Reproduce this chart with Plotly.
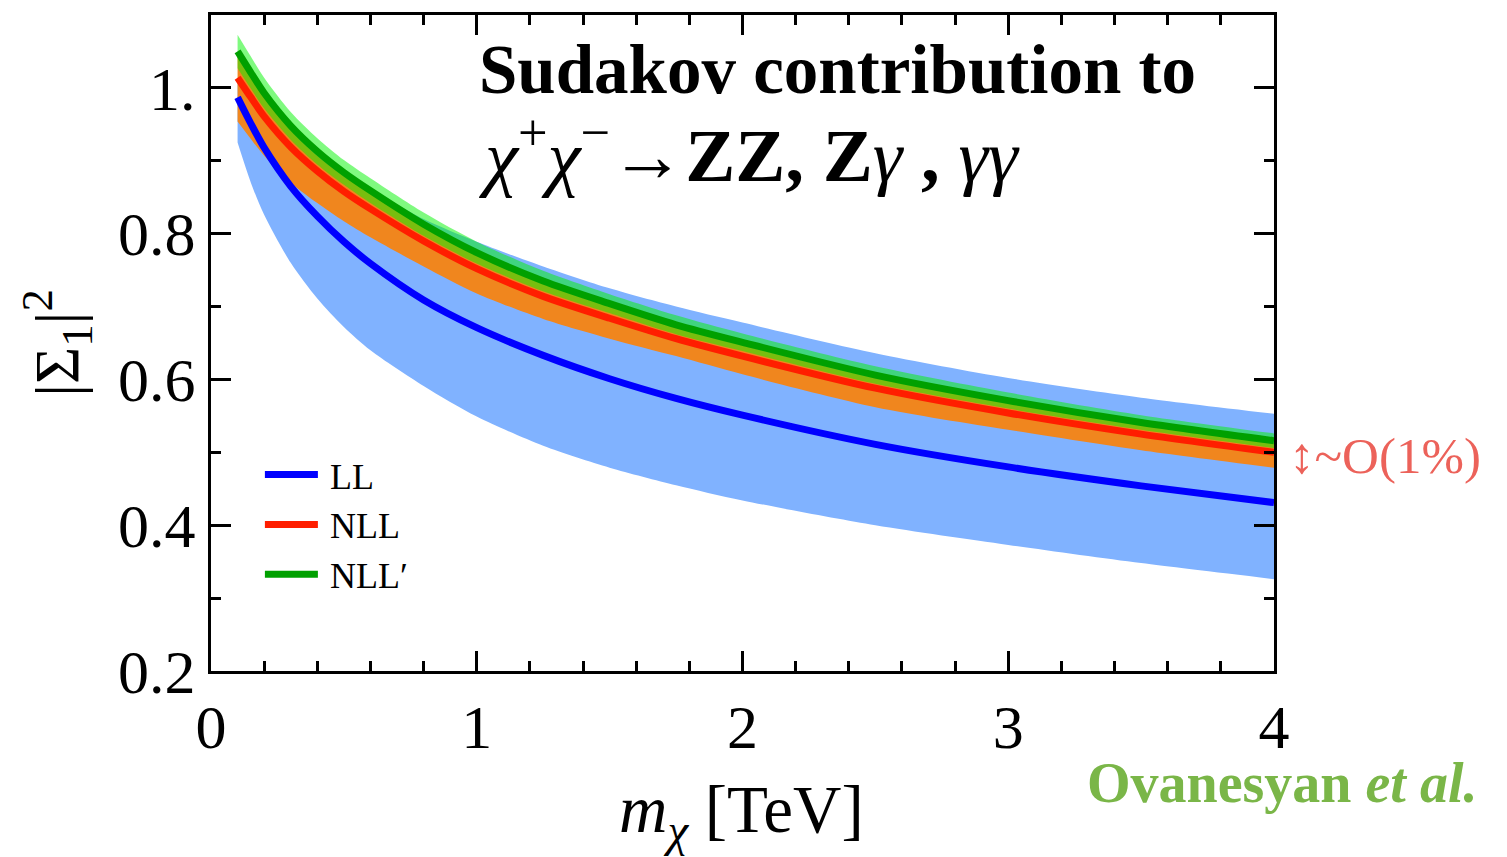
import plotly.graph_objects as go

# ---- data ----
mx = [0.1, 0.15, 0.2, 0.3, 0.4, 0.5, 0.6, 0.8, 1.0, 1.25, 1.5, 1.75, 2.0, 2.5, 3.0, 3.5, 4.0]

LL = [0.987, 0.951, 0.918, 0.865, 0.824, 0.789, 0.759, 0.709, 0.671, 0.633, 0.601, 0.574, 0.551, 0.511, 0.480, 0.454, 0.431]
LL_lo = [0.925, 0.870, 0.826, 0.760, 0.711, 0.672, 0.640, 0.591, 0.549, 0.509, 0.479, 0.455, 0.434, 0.400, 0.373, 0.348, 0.326]
LL_hi = [1.005, 0.995, 0.982, 0.946, 0.914, 0.887, 0.862, 0.820, 0.789, 0.755, 0.725, 0.700, 0.678, 0.636, 0.602, 0.575, 0.553]

NLL = [1.014, 0.987, 0.961, 0.919, 0.886, 0.858, 0.834, 0.790, 0.752, 0.714, 0.684, 0.656, 0.632, 0.588, 0.554, 0.525, 0.500]
NLL_lo = [0.954, 0.930, 0.907, 0.870, 0.842, 0.817, 0.795, 0.755, 0.718, 0.683, 0.656, 0.632, 0.607, 0.562, 0.531, 0.503, 0.479]
NLL_hi = [1.043, 1.015, 0.987, 0.942, 0.907, 0.879, 0.855, 0.809, 0.770, 0.731, 0.700, 0.671, 0.647, 0.602, 0.567, 0.538, 0.513]

NLLp = [1.050, 1.021, 0.993, 0.948, 0.913, 0.884, 0.859, 0.813, 0.774, 0.735, 0.704, 0.675, 0.651, 0.606, 0.571, 0.541, 0.516]
NLLp_lo = [1.027, 0.999, 0.972, 0.929, 0.895, 0.867, 0.842, 0.797, 0.759, 0.721, 0.691, 0.662, 0.639, 0.594, 0.560, 0.531, 0.506]
NLLp_hi = [1.073, 1.043, 1.014, 0.967, 0.931, 0.901, 0.876, 0.829, 0.789, 0.749, 0.717, 0.688, 0.663, 0.618, 0.582, 0.551, 0.526]

x_ticks = [0, 1, 2, 3, 4]
x_tick_text = ["0", "1", "2", "3", "4"]
y_ticks = [0.2, 0.4, 0.6, 0.8, 1.0]
y_tick_text = ["0.2", "0.4", "0.6", "0.8", "1."]

FONT = "Liberation Serif"

fig = go.Figure()


def band(lo, hi, color):
    fig.add_trace(go.Scatter(x=mx, y=lo, mode="lines",
                             line=dict(width=0, color=color, shape="spline", smoothing=0.8),
                             hoverinfo="skip", showlegend=False))
    fig.add_trace(go.Scatter(x=mx, y=hi, mode="lines", fill="tonexty", fillcolor=color,
                             line=dict(width=0, color=color, shape="spline", smoothing=0.8),
                             hoverinfo="skip", showlegend=False))


band(LL_lo, LL_hi, "#80b2ff")
band(NLL_lo, NLL_hi, "#f0861e")
band(NLLp_lo, NLLp_hi, "rgba(0,245,0,0.5)")

for name, ys, col in [("LL", LL, "#0000ff"), ("NLL", NLL, "#ff1e00"), ("NLL′", NLLp, "#00a000")]:
    fig.add_trace(go.Scatter(x=mx, y=ys, mode="lines", name="\u2009" + name,
                             line=dict(color=col, width=7, shape="spline", smoothing=0.8)))

axis_common = dict(
    showline=True, linecolor="black", linewidth=3, mirror="allticks",
    ticks="inside", ticklen=20, tickwidth=3, tickcolor="black",
    showgrid=False, zeroline=False, automargin=False,
    tickfont=dict(family=FONT, size=62, color="black"),
)

fig.update_xaxes(range=[0, 4], tickvals=x_ticks, ticktext=x_tick_text,
                 minor=dict(ticks="inside", ticklen=10, tickwidth=3, dtick=0.2, tickcolor="black", showgrid=False),
                 **axis_common)
fig.update_yaxes(range=[0.2, 1.1], tickvals=y_ticks, ticktext=y_tick_text,
                 minor=dict(ticks="inside", ticklen=10, tickwidth=3, dtick=0.1, tick0=0.2, tickcolor="black", showgrid=False),
                 **axis_common)

annotations = [
    dict(text="<b>Sudakov contribution to</b>", x=0.250, y=0.916, xanchor="left", yanchor="middle",
         font=dict(family=FONT, size=69, color="black")),
    dict(text="<i>χ</i><sup>+</sup><i>χ</i><sup>−</sup><b>→ZZ, Z</b><i>γ</i><b> , </b><i>γγ</i>",
         x=0.250, y=0.794, xanchor="left", yanchor="middle",
         font=dict(family=FONT, size=75, color="black")),
    dict(text="|Σ<sub>1</sub>|<sup>2</sup>", x=-0.145, y=0.5, xanchor="center", yanchor="middle",
         textangle=-90, font=dict(family=FONT, size=64, color="black")),
    dict(text="<i>m</i><sub><i>χ</i></sub> [TeV]", x=0.4995, y=-0.218, xanchor="center", yanchor="middle",
         font=dict(family=FONT, size=67, color="black")),
    dict(text="↕~O(1%)", x=1.012, y=0.327, xanchor="left", yanchor="middle",
         font=dict(family=FONT, size=51, color="#ec625a")),
    dict(text="<b>Ovanesyan <i>et al.</i></b>", x=0.822, y=-0.170, xanchor="left", yanchor="middle",
         font=dict(family=FONT, size=56, color="#7ab648")),
]
for a in annotations:
    a.update(xref="paper", yref="paper", showarrow=False)

# page body adds an 8px offset, so the figure is 8px smaller and margins shifted
fig.update_layout(
    width=1499, height=849, autosize=False,
    margin=dict(l=203, r=233, t=7, b=186, pad=0),
    paper_bgcolor="white", plot_bgcolor="white",
    annotations=annotations,
    legend=dict(x=0.046, y=0.345, xanchor="left", yanchor="top", traceorder="normal",
                font=dict(family=FONT, size=36, color="black"),
                bgcolor="rgba(0,0,0,0)", tracegroupgap=0, itemwidth=53),
    showlegend=True,
)

fig.write_html("out.html")
